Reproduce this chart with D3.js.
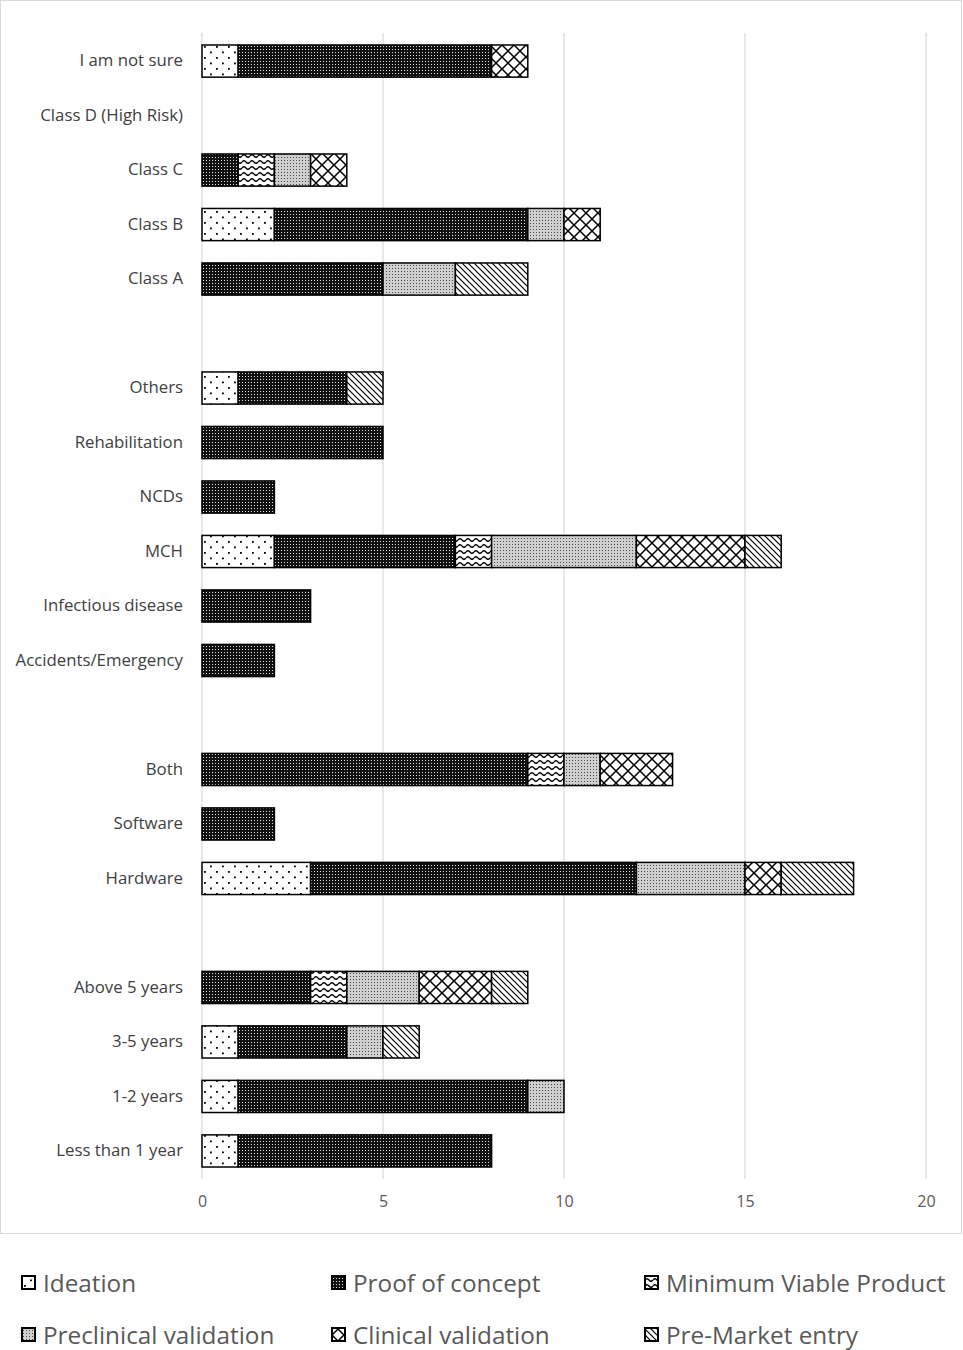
<!DOCTYPE html>
<html>
<head>
<meta charset="utf-8">
<script src="https://cdn.jsdelivr.net/npm/d3@7"></script>
<style>
  body { margin: 0; background: #fff; }
  svg { display: block; font-family: "Open Sans", "Liberation Sans", sans-serif; }
</style>
</head>
<body>
<svg id="chart" width="963" height="1350"></svg>
<script>
'use strict';
// categories top to bottom, '' marks the gap between groups
var categories = ['I am not sure', 'Class D (High Risk)', 'Class C', 'Class B', 'Class A', '',
  'Others', 'Rehabilitation', 'NCDs', 'MCH', 'Infectious disease', 'Accidents/Emergency', '',
  'Both', 'Software', 'Hardware', '',
  'Above 5 years', '3-5 years', '1-2 years', 'Less than 1 year'];
var stages = ['Ideation', 'Proof of concept', 'Minimum Viable Product',
  'Preclinical validation', 'Clinical validation', 'Pre-Market entry'];
var ideation     = [1, 0, 0, 2, 0, 0, 1, 0, 0, 2, 0, 0, 0, 0, 0, 3, 0, 0, 1, 1, 1];
var proofConcept = [7, 0, 1, 7, 5, 0, 3, 5, 2, 5, 3, 2, 0, 9, 2, 9, 0, 3, 3, 8, 7];
var mvp          = [0, 0, 1, 0, 0, 0, 0, 0, 0, 1, 0, 0, 0, 1, 0, 0, 0, 1, 0, 0, 0];
var preclinical  = [0, 0, 1, 1, 2, 0, 0, 0, 0, 4, 0, 0, 0, 1, 0, 3, 0, 2, 1, 1, 0];
var clinical     = [1, 0, 1, 1, 0, 0, 0, 0, 0, 3, 0, 0, 0, 2, 0, 1, 0, 2, 0, 0, 0];
var preMarket    = [0, 0, 0, 0, 2, 0, 1, 0, 0, 1, 0, 0, 0, 0, 0, 2, 0, 1, 1, 0, 0];
var xTicks = [0, 5, 10, 15, 20];

var series = [ideation, proofConcept, mvp, preclinical, clinical, preMarket];
var patternIds = ['pIdea', 'pPoc', 'pMvp', 'pPre', 'pClin', 'pMkt'];
var FONT = '"Open Sans", "Liberation Sans", sans-serif';

var svg = d3.select('#chart');
var margin = {left: 202, right: 37, top: 33, bottom: 171};
var width = 963 - margin.left - margin.right,
    height = 1350 - margin.top - margin.bottom;

// patterns
var defs = svg.append('defs');
function pattern(id, w, h) {
  return defs.append('pattern').attr('id', id)
    .attr('patternUnits', 'userSpaceOnUse').attr('width', w).attr('height', h);
}
var p = pattern('pIdea', 12, 11);
p.append('rect').attr('width', 12).attr('height', 11).attr('fill', '#fff');
p.append('rect').attr('x', 2).attr('y', 2).attr('width', 1.8).attr('height', 1.8).attr('fill', '#000');
p.append('rect').attr('x', 8).attr('y', 7.5).attr('width', 1.8).attr('height', 1.8).attr('fill', '#000');

p = pattern('pPoc', 3, 3);
p.append('rect').attr('width', 3).attr('height', 3).attr('fill', '#111');
p.append('rect').attr('x', 1).attr('y', 1).attr('width', 1).attr('height', 1).attr('fill', '#ddd');

p = pattern('pMvp', 8, 6);
p.append('rect').attr('width', 8).attr('height', 6).attr('fill', '#fff');
p.append('path').attr('d', 'M0,3 Q2,0.5 4,3 T8,3').attr('fill', 'none')
  .attr('stroke', '#000').attr('stroke-width', 1.4);

p = pattern('pPre', 3, 3);
p.append('rect').attr('width', 3).attr('height', 3).attr('fill', '#cfcfcf');
p.append('rect').attr('x', 1).attr('y', 1).attr('width', 1).attr('height', 1).attr('fill', '#4a4a4a');

p = pattern('pClin', 12, 12);
p.append('rect').attr('width', 12).attr('height', 12).attr('fill', '#fff');
p.append('path').attr('d', 'M0,0L12,12M12,0L0,12').attr('stroke', '#000').attr('stroke-width', 1.5);

p = pattern('pMkt', 6, 6);
p.append('rect').attr('width', 6).attr('height', 6).attr('fill', '#fff');
p.append('path').attr('d', 'M0,0L6,6M-1,5L1,7M5,-1L7,1').attr('stroke', '#000').attr('stroke-width', 1.2);

// outer frame
svg.append('rect')
  .attr('x', 0.5).attr('y', 0.5).attr('width', 961).attr('height', 1233)
  .attr('fill', 'none').attr('stroke', '#d9d9d9');

var g = svg.append('g').attr('transform', 'translate(' + margin.left + ',' + margin.top + ')');

var keys = categories.map(function(c, i) { return i; });
var yScale = d3.scaleBand().domain(keys).range([0, height]).paddingInner(0.41).paddingOuter(0.22);
var xScale = d3.scaleLinear().domain([0, 20]).range([0, 724]);

// gridlines
g.append('g').selectAll('line').data(xTicks).enter().append('line')
  .attr('x1', function(d) { return xScale(d); }).attr('x2', function(d) { return xScale(d); })
  .attr('y1', 0).attr('y2', height)
  .attr('stroke', '#d9d9d9').attr('stroke-width', 1.2);

// stacked bars
var rows = keys.map(function(i) {
  var o = {key: i};
  stages.forEach(function(s, j) { o[s] = series[j][i]; });
  return o;
});
var stacked = d3.stack().keys(stages)(rows);
stacked.forEach(function(layer, j) {
  g.append('g').selectAll('rect')
    .data(layer.filter(function(d) { return d[1] > d[0]; }))
    .enter().append('rect')
    .attr('x', function(d) { return xScale(d[0]); })
    .attr('y', function(d) { return yScale(d.data.key); })
    .attr('width', function(d) { return xScale(d[1]) - xScale(d[0]); })
    .attr('height', yScale.bandwidth())
    .attr('fill', 'url(#' + patternIds[j] + ')')
    .attr('stroke', '#000').attr('stroke-width', 1.5);
});

// axes
var leftAxis = d3.axisLeft(yScale).tickSize(0).tickPadding(19)
  .tickFormat(function(i) { return categories[i]; });
g.append('g').attr('class', 'yAxis').call(leftAxis).attr('font-family', FONT).attr('font-size', 16.8);
var bottomAxis = d3.axisBottom(xScale).tickValues(xTicks).tickSize(0).tickPadding(17);
g.append('g').attr('class', 'xAxis').attr('transform', 'translate(0,' + height + ')')
  .call(bottomAxis).attr('font-family', FONT).attr('font-size', 16);
svg.selectAll('.domain').remove();
svg.selectAll('.yAxis text').attr('fill', '#404040');
svg.selectAll('.xAxis text').attr('fill', '#595959');

// legend
var legendPos = [[22, 1283], [332, 1283], [645, 1283], [22, 1335], [332, 1335], [645, 1335]];
var legend = svg.append('g').selectAll('g').data(stages).enter().append('g')
  .attr('transform', function(d, i) { return 'translate(' + legendPos[i][0] + ',' + legendPos[i][1] + ')'; });
legend.append('rect')
  .attr('x', 0).attr('y', -7).attr('width', 13).attr('height', 13)
  .attr('fill', function(d, i) { return 'url(#' + patternIds[i] + ')'; })
  .attr('stroke', '#000').attr('stroke-width', 2);
legend.append('text')
  .attr('x', 21).attr('y', 0).attr('dy', '0.35em')
  .style('font-size', '24.3px').attr('fill', '#595959')
  .text(function(d) { return d; });
</script>
</body>
</html>
